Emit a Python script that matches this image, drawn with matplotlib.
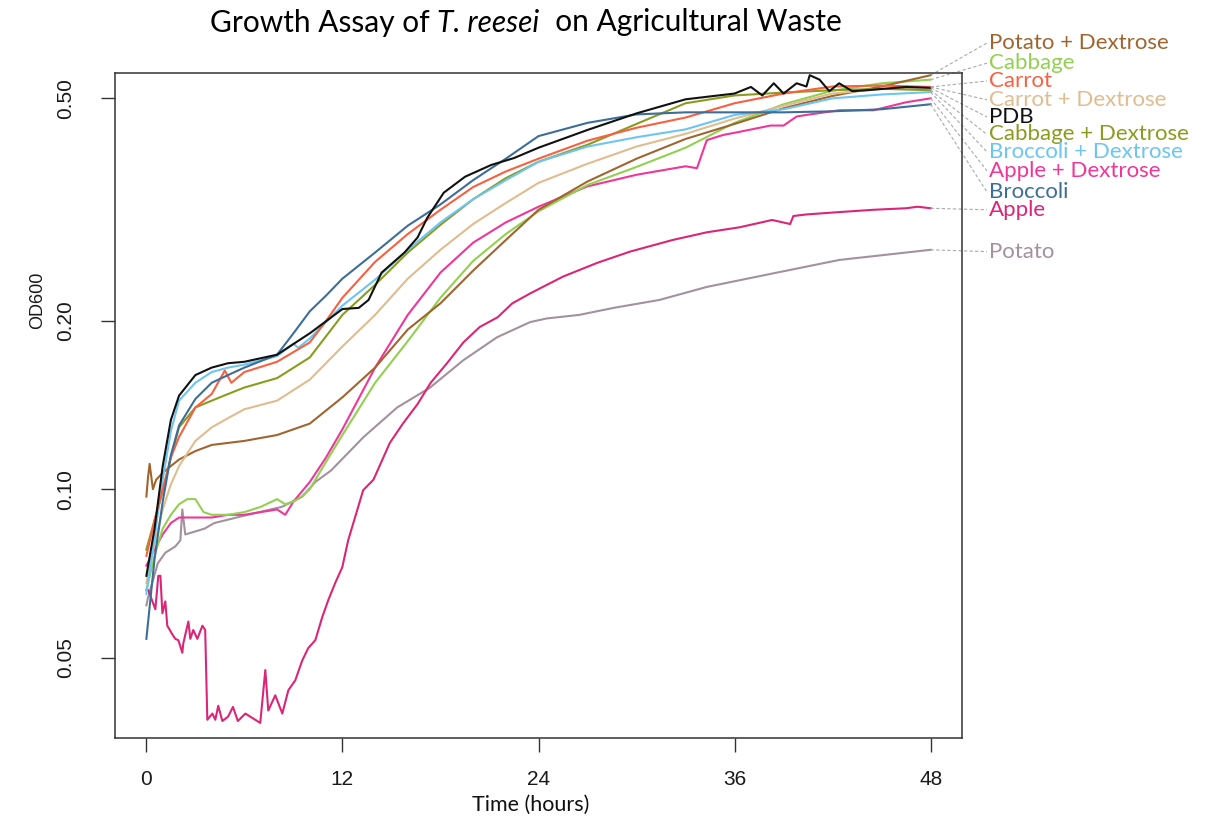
import matplotlib
matplotlib.use("Agg")
import matplotlib.pyplot as plt

# growth curves, OD600 vs time (hours)
potato_t = [0, 0.1, 0.7, 1.16, 1.77, 2.08, 2.2, 2.38, 3.55, 4.16, 6.2, 8.3, 9.54, 10.34, 11.3, 13.3,
            15.35, 17.37, 19.39, 21.47, 23.49, 24.5, 26.5, 28.6, 31.4, 34.3, 38.3, 42.4, 46.5, 48]
potato_od = [0.062, 0.064, 0.0737, 0.077, 0.079, 0.081, 0.092, 0.083, 0.085, 0.087, 0.090, 0.093, 0.097,
             0.103, 0.108, 0.124, 0.140, 0.152, 0.170, 0.187, 0.199, 0.202, 0.205, 0.211, 0.218, 0.230,
             0.243, 0.257, 0.265, 0.268]

apple_t = [0, 0.12, 0.37, 0.55, 0.73, 0.86, 0.98, 1.16, 1.28, 1.59, 1.77, 1.96, 2.2, 2.26, 2.57, 2.69,
           2.87, 3.12, 3.43, 3.6, 3.73, 4.04, 4.22, 4.4, 4.65, 5.0, 5.3, 5.6, 6.06, 6.48, 6.97, 7.28,
           7.46, 7.89, 8.32, 8.69, 9.11, 9.54, 9.91, 10.34, 10.76, 11.13, 11.56, 11.99, 12.35, 13.27,
           13.9, 14.9, 15.7, 16.6, 17.4, 18.4, 19.4, 20.4, 21.5, 22.4, 23.5, 25.5, 27.6, 29.6, 32.2,
           34.3, 36.3, 38.3, 39.4, 39.6, 40.4, 42.4, 44.5, 46.5, 47.2, 48]
apple_od = [0.066, 0.066, 0.063, 0.061, 0.070, 0.070, 0.060, 0.063, 0.057, 0.055, 0.054, 0.0537, 0.051,
            0.053, 0.058, 0.054, 0.056, 0.054, 0.057, 0.056, 0.0387, 0.0397, 0.0387, 0.041, 0.0385,
            0.0392, 0.0408, 0.0385, 0.0397, 0.039, 0.0382, 0.0475, 0.0402, 0.0428, 0.0397, 0.0437,
            0.0455, 0.0494, 0.052, 0.0537, 0.059, 0.0633, 0.068, 0.0725, 0.081, 0.0996, 0.104, 0.121,
            0.131, 0.142, 0.155, 0.168, 0.183, 0.195, 0.203, 0.215, 0.224, 0.240, 0.254, 0.266, 0.279,
            0.288, 0.294, 0.303, 0.298, 0.308, 0.310, 0.313, 0.316, 0.318, 0.320, 0.318]

apple_dex_t = [0, 0.5, 1, 1.5, 2, 3, 4, 5, 6, 7, 8, 8.5, 9, 10, 11, 12, 14, 16, 18, 20, 22, 24, 27,
               30, 33, 33.7, 34.3, 35.3, 36.2, 38.2, 39, 39.8, 40.4, 42.4, 44.5, 46.5, 48]
apple_dex_od = [0.073, 0.078, 0.083, 0.087, 0.089, 0.089, 0.089, 0.090, 0.090, 0.091, 0.092, 0.090,
                0.095, 0.103, 0.114, 0.128, 0.165, 0.205, 0.244, 0.276, 0.300, 0.320, 0.348, 0.365,
                0.378, 0.375, 0.421, 0.430, 0.435, 0.447, 0.447, 0.464, 0.467, 0.476, 0.476, 0.492,
                0.500]

cabbage_t = [0, 0.5, 1, 1.5, 2, 2.5, 3, 3.5, 4, 5, 6, 7, 8, 8.5, 9, 9.5, 10, 11, 12, 14, 16, 18, 20,
             22, 24, 27, 30, 33, 36, 39, 42, 45, 48]
cabbage_od = [0.066, 0.076, 0.085, 0.090, 0.094, 0.096, 0.096, 0.091, 0.090, 0.090, 0.091, 0.093,
              0.096, 0.094, 0.095, 0.097, 0.100, 0.112, 0.125, 0.155, 0.184, 0.220, 0.256, 0.286,
              0.314, 0.350, 0.377, 0.408, 0.452, 0.488, 0.516, 0.532, 0.540]

potato_dex_t = [0, 0.1, 0.2, 0.4, 0.6, 1, 1.5, 2, 3, 4, 5, 6, 8, 10, 12, 14, 16, 18, 20, 22, 24, 27,
                30, 33, 36, 39, 42, 45, 48]
potato_dex_od = [0.097, 0.105, 0.111, 0.100, 0.104, 0.107, 0.110, 0.113, 0.117, 0.120, 0.121, 0.122,
                 0.125, 0.131, 0.146, 0.165, 0.193, 0.215, 0.246, 0.279, 0.316, 0.355, 0.390, 0.423,
                 0.450, 0.480, 0.505, 0.525, 0.550]

grid_t = [0, 0.5, 1, 1.5, 2, 3, 4, 5, 6, 8, 10, 12, 14, 16, 18, 20, 22, 24, 27, 30, 33, 36, 39, 42,
          45, 48]
carrot_dex_od = [0.068, 0.080, 0.092, 0.102, 0.110, 0.122, 0.129, 0.134, 0.139, 0.144, 0.157, 0.180,
                 0.205, 0.238, 0.268, 0.298, 0.325, 0.353, 0.382, 0.410, 0.432, 0.460, 0.485, 0.510,
                 0.520, 0.524]
cabbage_dex_od = [0.078, 0.088, 0.099, 0.114, 0.129, 0.140, 0.144, 0.148, 0.152, 0.158, 0.172, 0.205,
                  0.232, 0.265, 0.297, 0.330, 0.360, 0.385, 0.413, 0.450, 0.490, 0.506, 0.512, 0.517,
                  0.520, 0.517]

broccoli_dex_t = [0, 0.5, 1, 1.5, 2, 3, 4, 5, 6, 8, 9, 9.3, 10, 12, 14, 16, 18, 20, 22, 24, 27, 30,
                  33, 36, 39, 42, 45, 48]
broccoli_dex_od = [0.065, 0.082, 0.104, 0.127, 0.144, 0.155, 0.162, 0.165, 0.167, 0.173, 0.182, 0.179,
                   0.186, 0.213, 0.237, 0.268, 0.300, 0.330, 0.357, 0.385, 0.410, 0.426, 0.440, 0.467,
                   0.478, 0.500, 0.508, 0.513]

carrot_t = [0, 0.5, 1, 1.5, 2, 3, 4, 4.8, 5.2, 6, 8, 10, 11, 12, 14, 16, 18, 20, 22, 24, 27, 30, 33,
            36, 39, 42, 45, 48]
carrot_od = [0.076, 0.088, 0.100, 0.114, 0.124, 0.140, 0.148, 0.163, 0.155, 0.162, 0.169, 0.183, 0.200,
             0.220, 0.255, 0.286, 0.316, 0.347, 0.370, 0.390, 0.420, 0.443, 0.462, 0.490, 0.510, 0.525,
             0.527, 0.524]

broccoli_t = [0, 0.5, 1, 1.5, 2, 3, 4, 5, 6, 8, 9, 10, 11, 12, 14, 16, 18, 20, 22, 24, 27, 30, 33, 36,
              39, 42, 45, 48]
broccoli_od = [0.054, 0.075, 0.095, 0.115, 0.130, 0.145, 0.155, 0.160, 0.165, 0.174, 0.190, 0.208, 0.222,
               0.238, 0.265, 0.296, 0.323, 0.357, 0.390, 0.428, 0.452, 0.468, 0.472, 0.472, 0.472, 0.474,
               0.478, 0.488]

pdb_t = [0, 0.5, 1, 1.5, 2, 3, 4, 5, 6, 8, 10, 12, 13, 13.6, 14.4, 15.8, 16.6, 17.2, 18.2, 19.5, 21.1,
         22.5, 24, 27, 30, 33, 36, 37, 37.7, 38.4, 39, 39.8, 40.4, 40.6, 41.2, 41.8, 42.4, 43.2, 44.1,
         46.5, 48]
pdb_od = [0.070, 0.085, 0.110, 0.133, 0.147, 0.160, 0.165, 0.168, 0.169, 0.174, 0.190, 0.210, 0.211,
          0.218, 0.244, 0.265, 0.282, 0.306, 0.339, 0.362, 0.380, 0.391, 0.408, 0.439, 0.470, 0.498,
          0.510, 0.524, 0.506, 0.532, 0.510, 0.532, 0.525, 0.550, 0.540, 0.515, 0.532, 0.515, 0.517,
          0.524, 0.522]

series = [
    ("Potato", potato_t, potato_od, "#a3919e"),
    ("Apple", apple_t, apple_od, "#dc2577"),
    ("Apple + Dextrose", apple_dex_t, apple_dex_od, "#f0369a"),
    ("Cabbage", cabbage_t, cabbage_od, "#92d050"),
    ("Potato + Dextrose", potato_dex_t, potato_dex_od, "#a0652f"),
    ("Carrot + Dextrose", grid_t, carrot_dex_od, "#e0bc8e"),
    ("Cabbage + Dextrose", grid_t, cabbage_dex_od, "#8b9b1e"),
    ("Broccoli + Dextrose", broccoli_dex_t, broccoli_dex_od, "#6cc5f3"),
    ("Carrot", carrot_t, carrot_od, "#f86041"),
    ("Broccoli", broccoli_t, broccoli_od, "#3d6e97"),
    ("PDB", pdb_t, pdb_od, "#111111"),
]

# right-hand labels, top to bottom, with the OD level each label sits at
label_order = ["Potato + Dextrose", "Cabbage", "Carrot", "Carrot + Dextrose", "PDB",
               "Cabbage + Dextrose", "Broccoli + Dextrose", "Apple + Dextrose", "Broccoli",
               "Apple", "Potato"]
label_od = [0.628, 0.578, 0.537, 0.497, 0.463, 0.431, 0.401, 0.371, 0.340, 0.316, 0.266]

fig = plt.figure(figsize=(12.09, 8.25), dpi=100)
ax = fig.add_axes([115 / 1209, 1 - 738 / 825, 847 / 1209, 665 / 825])

for name, t, od, col in series:
    ax.plot(t, od, color=col, lw=1.5)

ax.set_yscale("log")
ax.set_xlim(-1.92, 49.92)
ax.set_ylim(0.0359, 0.555)
ax.set_xticks([0, 12, 24, 36, 48])
ax.set_yticks([0.05, 0.1, 0.2, 0.5])
ax.set_yticklabels(["0.05", "0.10", "0.20", "0.50"], rotation=90, va="center")
ax.minorticks_off()
ax.tick_params(axis="both", length=10, width=1, color="#333333", labelsize=15,
               labelcolor="#1a1a1a")
ax.tick_params(axis="x", pad=13)
ax.tick_params(axis="y", pad=19)
for lab in ax.get_xticklabels() + ax.get_yticklabels():
    lab.set_fontfamily("Liberation Sans")
for sp in ax.spines.values():
    sp.set_color("#333333")
    sp.set_linewidth(1.1)

# labels with dashed leaders from each curve end
colors = {name: col for name, t, od, col in series}
ends = {name: od[-1] for name, t, od, col in series}
for name, y in zip(label_order, label_od):
    ax.plot([48, 51.45], [ends[name], y], ls=(0, (3, 2)), color="#aaaaaa", lw=0.8, clip_on=False)
    ax.text(51.56, y, name, color=colors[name], fontsize=16, family="Lato",
            ha="left", va="center", clip_on=False)

fig.text(38 / 1209, 1 - 300 / 825, "OD600", rotation=90, ha="center", va="center",
         fontsize=13, family="Liberation Sans", color="#1a1a1a")
fig.text(531 / 1209, 1 - 805 / 825, "Time (hours)", ha="center", va="center",
         fontsize=15.5, family="Lato", color="#111111")

# title: plain / italic species / plain
t1 = fig.text(210 / 1209, 1 - 23 / 825, "Growth Assay of ", fontsize=21.5, family="Lato",
              ha="left", va="center")
t2 = fig.text(0, 0, "T. reesei", fontsize=21.5, family="Lato", style="italic",
              ha="left", va="baseline")
t3 = fig.text(0, 0, "  on Agricultural Waste", fontsize=21.5, family="Lato",
              ha="left", va="baseline")
fig.canvas.draw()
r = fig.canvas.get_renderer()
bb1 = t1.get_window_extent(r)
base = (bb1.y0 + 5.5) / fig.bbox.height
t2.set_position((bb1.x1 / fig.bbox.width, base))
fig.canvas.draw()
bb2 = t2.get_window_extent(r)
t3.set_position((bb2.x1 / fig.bbox.width, base))

fig.savefig("out.png", dpi=100)
